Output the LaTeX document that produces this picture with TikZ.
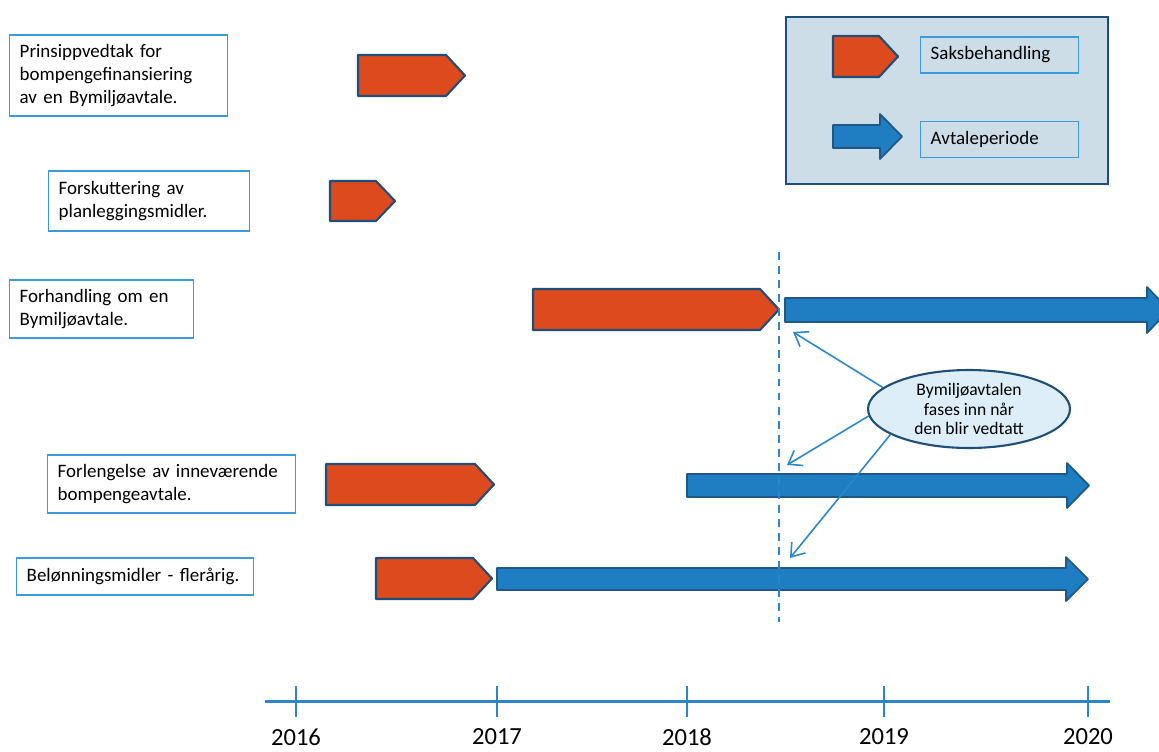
\documentclass[tikz,border=0pt]{standalone}
\usepackage{fontspec}
\setmainfont{Carlito}
\usetikzlibrary{arrows.meta,shapes.geometric}
\definecolor{saksred}{HTML}{DC4A1E}
\definecolor{edgeblue}{HTML}{1F4E79}
\definecolor{avtblue}{HTML}{1F7DC1}
\definecolor{lineblue}{HTML}{2B86CA}
\definecolor{boxblue}{HTML}{3A9ADB}
\definecolor{legendbg}{HTML}{CCDDE7}
\definecolor{bubblebg}{HTML}{DDEEF8}
\hyphenpenalty=10000

\begin{document}
\begin{tikzpicture}[x=0.02cm,y=-0.02cm,>={Straight Barb[length=7pt,width=10pt]},
  saks/.style={fill=saksred,draw=edgeblue,line width=1.2pt,line join=round},
  avtale/.style={fill=avtblue,draw=edgeblue!80!avtblue,line width=1pt,line join=round},
  tbox/.style={draw=boxblue,line width=0.8pt,anchor=west,align=left,inner xsep=0.2cm,
    font=\fontsize{10.8}{13.2}\selectfont},
  bubble/.style={ellipse,fill=bubblebg,draw=edgeblue,line width=1.2pt,inner sep=0pt,
    minimum width=4.04cm,minimum height=1.56cm,align=center,font=\fontsize{10}{11.2}\selectfont},
  callout/.style={draw=lineblue,line width=0.9pt},
  year/.style={font=\fontsize{14}{16}\selectfont}]
\useasboundingbox (0,0) rectangle (1159,751);

% legend
\draw [fill=legendbg,draw=edgeblue,line width=1.6pt] (786,17) rectangle (1108,184);

% saksbehandling
\foreach \xa/\xb/\yt/\yb in {358/465/55/96, 330/395/181/221, 533/779/289/330, 326/494/464/505, 376/492/558/599, 833/898/36/77}
{
   \draw [saks] (\xa,\yt) -- (\xb-19,\yt) -- (\xb,{(\yt+\yb)/2}) -- (\xb-19,\yb) -- (\xa,\yb) -- cycle;
}

% avtaleperiode
\foreach \xa/\xb/\yt/\yb in {785/1169/298/322, 687/1089/474/497, 497/1088/568/590, 833/902/125/148}
{
   \draw [avtale] (\xa,\yt) -- (\xb-22,\yt) -- (\xb-22,\yt-11) -- (\xb,{(\yt+\yb)/2}) -- (\xb-22,\yb+11) -- (\xb-22,\yb) -- (\xa,\yb) -- cycle;
}

\node [tbox,text width=2.76cm,minimum height=0.72cm] (lsaks) at (920,55) {Saksbehandling};
\node [tbox,text width=2.76cm,minimum height=0.72cm] (lavtale) at (920,139.5) {Avtaleperiode};

\node [tbox,text width=3.96cm,minimum height=1.62cm] (prinsipp) at (9,75.5) {Prinsippvedtak for\\bompengefinansiering\\av en Bymiljøavtale.};
\node [tbox,text width=3.62cm,minimum height=1.2cm] (forskutt) at (48,201) {Forskuttering av\\planleggingsmidler.};
\node [tbox,text width=3.28cm,minimum height=1.16cm] (forhandl) at (9,309) {Forhandling om en\\Bymiljøavtale.};
\node [tbox,text width=4.56cm,minimum height=1.16cm] (forleng) at (47,484) {Forlengelse av inneværende\\bompengeavtale.};
\node [tbox,text width=4.34cm,minimum height=0.74cm] (belonn) at (16,576.5) {Belønningsmidler - flerårig.};

% vedtak
\coordinate (dtop) at (779,252);
\coordinate (dbot) at (779,622);
\draw [lineblue,line width=1.1pt,dash pattern=on 4.5pt off 3.5pt] (dtop) -- (dbot);

\node [bubble] (bubble) at (969,409) {Bymiljøavtalen\\fases inn når\\den blir vedtatt};
\coordinate (t1) at (793,332);
\coordinate (t2) at (787,465);
\coordinate (t3) at (790,558);
\draw [callout,->] (bubble.166) -- (t1);
\draw [callout,->] (bubble.184) -- (t2);
\draw [callout,->] (bubble.198) -- (t3);

% tidslinje
\draw [lineblue,line width=1.7pt] (265,701) -- (1110,701);
\foreach \x/\yr in {296/2016, 497/2017, 687/2018, 884/2019, 1088/2020}
{
   \draw [lineblue,line width=1.1pt] (\x,686) -- (\x,717);
   \node [year] (y\yr) at (\x,737) {\yr};
}

\end{tikzpicture}
\end{document}
